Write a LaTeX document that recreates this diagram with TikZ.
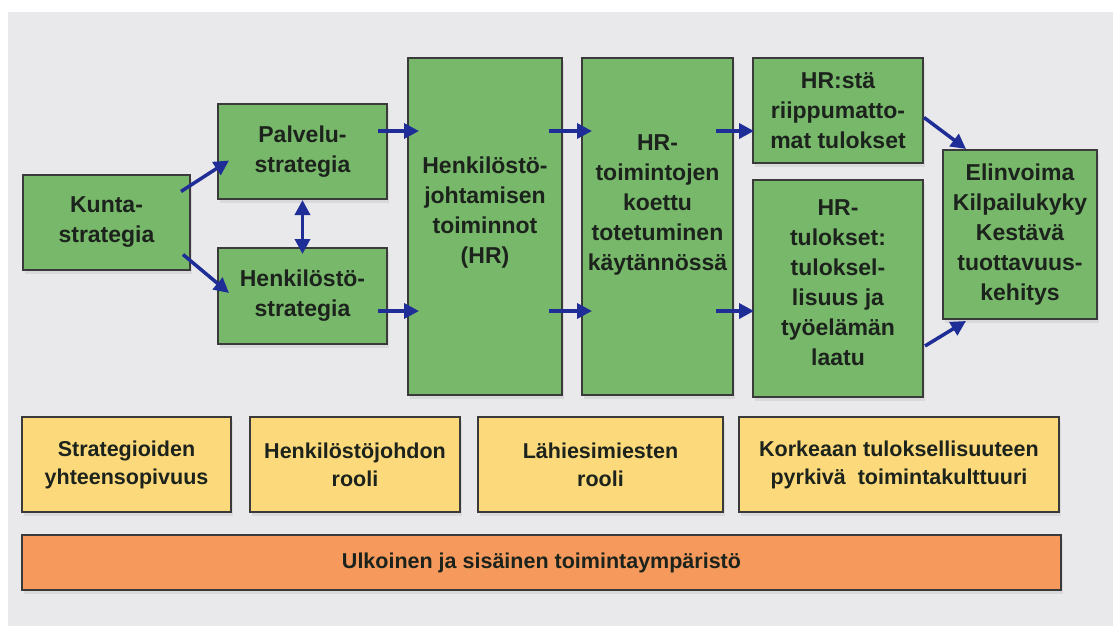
\documentclass[tikz,border=0pt]{standalone}
\usepackage{fontspec}
\setmainfont{Liberation Sans}
\usetikzlibrary{arrows.meta,calc,shadows}
\definecolor{bgray}{HTML}{E9E9EB}
\definecolor{boxgreen}{HTML}{78B86A}
\definecolor{boxyellow}{HTML}{FCD97A}
\definecolor{boxorange}{HTML}{F59A5C}
\definecolor{arrblue}{HTML}{1F2E96}
\definecolor{edge}{HTML}{3A3A3A}
\definecolor{ink}{HTML}{1C231C}
\begin{document}
\begin{tikzpicture}[x=1pt,y=-1pt,
    >={Triangle[length=15pt,width=15pt]},
    box/.style={draw=edge,line width=2pt,inner sep=0pt,align=center,text=ink,
      drop shadow={shadow xshift=2pt,shadow yshift=-4pt,opacity=0.15}},
    gtext/.style={align=center,text=ink,font=\fontsize{23}{30}\selectfont\bfseries},
    gbox/.style={box,fill=boxgreen,gtext},
    ybox/.style={box,fill=boxyellow,font=\fontsize{21.5}{28}\selectfont\bfseries},
    obox/.style={box,fill=boxorange,font=\fontsize{21.5}{28}\selectfont\bfseries},
    arr/.style={draw=arrblue,line width=3.5pt,->}]
  \useasboundingbox (0,0) rectangle (1113,626);
  \fill[bgray] (8,12) rectangle (1113,626);

  \node[gbox,minimum width=167pt,minimum height=95pt] (kunta) at (106.5,222.5) {Kunta-\\strategia};
  \node[gbox,minimum width=169pt,minimum height=95pt] (palv) at (302.5,151.5) {Palvelu-\\strategia};
  \node[gbox,minimum width=169pt,minimum height=96pt] (hstrat) at (302.5,296) {Henkilöstö-\\strategia};
  \node[gbox,minimum width=154pt,minimum height=337pt,
    label={[gtext,yshift=14pt]center:Henkilöstö-\\johtamisen\\toiminnot\\(HR)}] (hrfun) at (485,226.5) {};
  \node[gbox,minimum width=151pt,minimum height=337pt,
    label={[gtext,yshift=22pt]center:HR-\\toimintojen\\koettu\\totetuminen\\käytännössä}] (hrprac) at (657.5,226.5) {};
  \node[gbox,minimum width=170pt,minimum height=105pt] (indep) at (838,110.5) {HR:stä\\riippumatto-\\mat tulokset};
  \node[gbox,minimum width=170pt,minimum height=217pt,
    label={[gtext,yshift=6pt]center:HR-\\tulokset:\\tuloksel-\\lisuus ja\\työelämän\\laatu}] (hrres) at (838,288.5) {};
  \node[gbox,minimum width=154pt,minimum height=169pt] (vital) at (1020,234.5) {Elinvoima\\Kilpailukyky\\Kestävä\\tuottavuus-\\kehitys};

  \node[ybox,minimum width=209pt,minimum height=95pt] (stratfit) at (126.5,464.5) {Strategioiden\\yhteensopivuus};
  \node[ybox,minimum width=210pt,minimum height=95pt] (hrlead) at (355,464.5) {Henkilöstöjohdon\\rooli};
  \node[ybox,minimum width=245pt,minimum height=95pt] (supv) at (600.5,464.5) {Lähiesimiesten\\rooli};
  \node[ybox,minimum width=320pt,minimum height=95pt] (culture) at (899,464.5) {Korkeaan tuloksellisuuteen\\pyrkivä~ toimintakulttuuri};
  \node[obox,minimum width=1039pt,minimum height=55pt] (env) at (541.5,562.5) {Ulkoinen ja sisäinen toimintaympäristö};

  \coordinate (rowa) at (0,131);
  \coordinate (rowb) at (0,311);
  \begin{scope}[arr]
    \draw ($(kunta.east)+(-10,-31)$) -- ($(palv.west)+(12,9)$);
    \draw ($(kunta.east)+(-8,32)$) -- ($(hstrat.west)+(12,-3)$);
    \draw[<->] (palv.south) -- ($(hstrat.north)+(0,7)$);
    \draw[shorten <=-10pt,shorten >=-12pt] (palv.east |- rowa) -- (hrfun.west |- rowa);
    \draw[shorten <=-10pt,shorten >=-12pt] (hstrat.east |- rowb) -- (hrfun.west |- rowb);
    \draw[shorten <=-14pt,shorten >=-11pt] (hrfun.east |- rowa) -- (hrprac.west |- rowa);
    \draw[shorten <=-14pt,shorten >=-11pt] (hrfun.east |- rowb) -- (hrprac.west |- rowb);
    \draw[shorten <=-18pt,shorten >=-2pt] (hrprac.east |- rowa) -- (indep.west |- rowa);
    \draw[shorten <=-18pt,shorten >=-2pt] (hrprac.east |- rowb) -- (hrres.west |- rowb);
    \draw ($(indep.east)+(0,7)$) -- ($(vital.north west)+(24,0)$);
    \draw ($(hrres.south east)+(1,-52)$) -- ($(vital.south west)+(24,1)$);
  \end{scope}
\end{tikzpicture}
\end{document}
